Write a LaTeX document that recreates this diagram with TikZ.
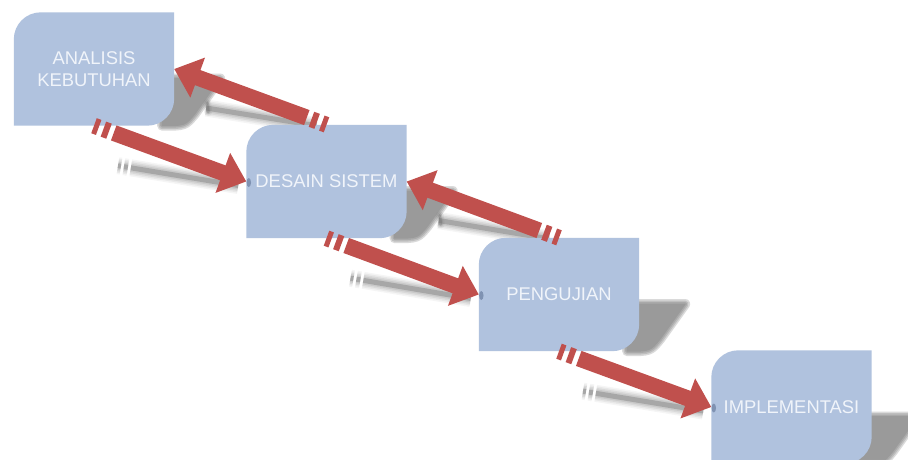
\documentclass[tikz,border=0pt]{standalone}
\usepackage{fontspec}
\setmainfont{Liberation Sans}
\usetikzlibrary{arrows.meta,calc}

\definecolor{boxblue}{RGB}{176,194,222}
\definecolor{arrowred}{RGB}{192,80,77}
\definecolor{labelwhite}{RGB}{240,244,250}
\definecolor{shadowgrey}{RGB}{110,110,110}
\definecolor{linegrey}{RGB}{90,90,90}
\definecolor{tipspot}{RGB}{95,115,150}

\pgfdeclarelayer{paper}
\pgfdeclarelayer{shadows}
\pgfdeclarelayer{boxes}
\pgfsetlayers{paper,shadows,boxes,main}

\tikzset{
  stage/.style={minimum width=160pt, minimum height=113pt, inner sep=0pt,
    text=labelwhite, align=center, font=\fontsize{18.4}{21.7}\selectfont},
  fatarrow/.style={draw=arrowred, line width=16pt,
    dash pattern=on 5pt off 5pt on 6pt off 5pt on 3000pt,
    -{Triangle[width=41pt,length=25pt]}},
  fwdshadow/.style={draw=linegrey,
    dash pattern=on 3pt off 3pt on 4pt off 3pt on 3000pt},
  backshadow/.style={draw=linegrey},
}

% box with rounded top-left and bottom-right corners
\newcommand\stageshape[1]{%
  \fill[boxblue] (#1.north east) -- ([yshift=27pt]#1.south east)
    arc[start angle=0,end angle=-90,radius=27pt] -- (#1.south west)
    -- ([yshift=-27pt]#1.north west)
    arc[start angle=180,end angle=90,radius=27pt] -- cycle;}

% soft cast shadow at the lower right of a box
\newcommand\boxshadow[1]{%
  \foreach \w in {1,4,7,10}{%
    \begin{scope}[transparency group, opacity=0.25]
      \filldraw[shadowgrey, line width=\w pt, line join=round]
        ($(#1.east)+(-14,-9.5)$) -- ($(#1.east)+(46,-9.5)$)
        -- ($(#1.east)+(21,-44.5)$)
        .. controls ($(#1.south east)+(11,0)$) .. ($(#1.south east)+(-12,0)$)
        -- cycle;
    \end{scope}}}

\begin{document}
\begin{tikzpicture}[x=1pt,y=1pt]
\useasboundingbox (0,0) rectangle (908,-459);
\begin{pgfonlayer}{paper}
  \fill[white] (0,0) rectangle (908,-459);
\end{pgfonlayer}

% stages
\node[stage] (b1) at (94,-69)      {ANALISIS\\KEBUTUHAN};
\node[stage] (b2) at (326.5,-181.5) {DESAIN SISTEM};
\node[stage] (b3) at (559,-294.5)   {PENGUJIAN};
\node[stage] (b4) at (791.5,-407)   {IMPLEMENTASI};

\begin{pgfonlayer}{boxes}
  \foreach \b in {b1,b2,b3,b4} {\stageshape{\b}}
  \foreach \b in {b2,b3,b4} {%
    \fill[tipspot, opacity=0.6] ($(\b.west)+(2.5,-1)$) ellipse [x radius=2.2pt, y radius=4.5pt];}
\end{pgfonlayer}

% shadows of boxes and arrows
\begin{pgfonlayer}{shadows}
  \foreach \b in {b1,b2,b3,b4} {\boxshadow{\b}}
  \foreach \p/\q in {b1/b2,b2/b3,b3/b4} {%
    \foreach \w/\o in {17/0.06,14/0.08,11/0.1,8/0.12,5/0.3} {%
      \draw[fwdshadow, line width=\w pt, opacity=\o]
        ($(\p.south)+(24,-40)$) -- ($(\q.west)+(-8,-4)$);}}
  \foreach \p/\q in {b1/b2,b2/b3} {%
    \foreach \w/\o in {17/0.06,14/0.08,11/0.1,8/0.12,5/0.3} {%
      \draw[backshadow, line width=\w pt, opacity=\o]
        ($(\q.north)+(-10,-1)$) -- ($(\p.east)+(32,-39)$);}
    \foreach \w/\o in {8/0.08,5/0.12,3/0.25} {%
      \draw[backshadow, line width=\w pt, opacity=\o, line cap=round]
        ($(\p.east)+(33,-34)$) -- ($(\p.east)+(34,-43)$);}}
\end{pgfonlayer}

% flow arrows
\draw[fatarrow] (b1.south) -- (b2.west);
\draw[fatarrow] (b2.south) -- (b3.west);
\draw[fatarrow] (b3.south) -- (b4.west);
\draw[fatarrow] (b2.north) -- (b1.east);
\draw[fatarrow] (b3.north) -- (b2.east);
\end{tikzpicture}
\end{document}
